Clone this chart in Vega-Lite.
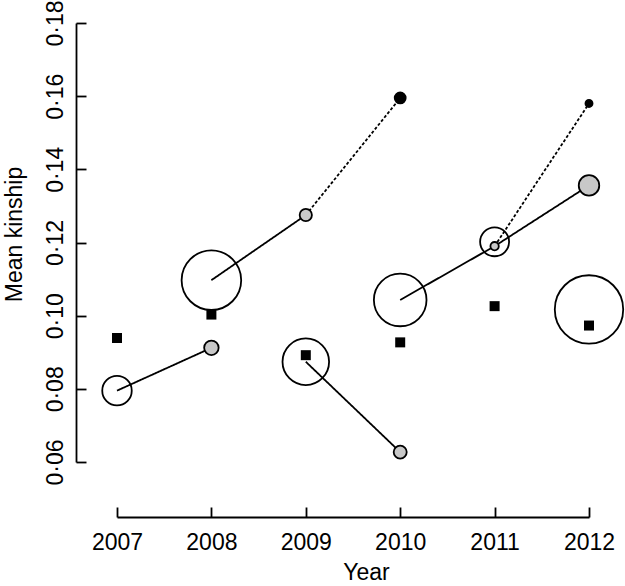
{
  "$schema": "https://vega.github.io/schema/vega-lite/v6.json",
  "autosize": {"type": "none"},
  "width": 472,
  "height": 439,
  "padding": {"left": 117, "top": 23, "right": 36, "bottom": 124},
  "background": "white",
  "config": {
    "view": {"stroke": null},
    "font": "Liberation Sans",
    "axis": {
      "grid": false,
      "domainColor": "black",
      "domainWidth": 1.8,
      "tickColor": "black",
      "tickWidth": 1.8,
      "tickSize": -10,
      "labelFlush": false,
      "labelOverlap": false,
      "labelFont": "Liberation Sans",
      "labelFontSize": 23,
      "labelColor": "black",
      "titleFont": "Liberation Sans",
      "titleFontSize": 23,
      "titleFontWeight": "normal",
      "titleColor": "black"
    }
  },
  "datasets": {
    "pts": [
      {"year": 2007, "kinship": 0.0795, "kind": "cohort", "n": 87},
      {"year": 2008, "kinship": 0.1097, "kind": "cohort", "n": 355},
      {"year": 2009, "kinship": 0.0874, "kind": "cohort", "n": 217},
      {"year": 2010, "kinship": 0.1043, "kind": "cohort", "n": 277},
      {"year": 2011, "kinship": 0.1202, "kind": "cohort", "n": 84},
      {"year": 2012, "kinship": 0.1017, "kind": "cohort", "n": 468},
      {"year": 2008, "kinship": 0.0912, "kind": "followup", "n": 21},
      {"year": 2009, "kinship": 0.1275, "kind": "followup", "n": 15},
      {"year": 2010, "kinship": 0.0627, "kind": "followup", "n": 17},
      {"year": 2011, "kinship": 0.119, "kind": "followup", "n": 7},
      {"year": 2012, "kinship": 0.1356, "kind": "followup", "n": 42},
      {"year": 2010, "kinship": 0.1595, "kind": "expected", "n": 12},
      {"year": 2012, "kinship": 0.158, "kind": "expected", "n": 5},
      {"year": 2007, "kinship": 0.0939, "kind": "population", "n": 10},
      {"year": 2008, "kinship": 0.1003, "kind": "population", "n": 10},
      {"year": 2009, "kinship": 0.0892, "kind": "population", "n": 10},
      {"year": 2010, "kinship": 0.0927, "kind": "population", "n": 10},
      {"year": 2011, "kinship": 0.1026, "kind": "population", "n": 10},
      {"year": 2012, "kinship": 0.0973, "kind": "population", "n": 10}
    ],
    "segs": [
      {"seg": "a", "style": "solid", "year": 2007, "kinship": 0.0795},
      {"seg": "a", "style": "solid", "year": 2008, "kinship": 0.0912},
      {"seg": "b", "style": "solid", "year": 2008, "kinship": 0.1097},
      {"seg": "b", "style": "solid", "year": 2009, "kinship": 0.1275},
      {"seg": "b2", "style": "dotted", "year": 2009, "kinship": 0.1275},
      {"seg": "b2", "style": "dotted", "year": 2010, "kinship": 0.1595},
      {"seg": "c", "style": "solid", "year": 2009, "kinship": 0.0874},
      {"seg": "c", "style": "solid", "year": 2010, "kinship": 0.0627},
      {"seg": "d", "style": "solid", "year": 2010, "kinship": 0.1043},
      {"seg": "d", "style": "solid", "year": 2011, "kinship": 0.119},
      {"seg": "d", "style": "solid", "year": 2012, "kinship": 0.1356},
      {"seg": "e", "style": "dotted", "year": 2011, "kinship": 0.119},
      {"seg": "e", "style": "dotted", "year": 2012, "kinship": 0.158}
    ]
  },
  "encoding": {
    "x": {
      "field": "year",
      "type": "quantitative",
      "scale": {"domain": [2007, 2012], "nice": false, "zero": false},
      "axis": {
        "title": "Year",
        "values": [2007, 2008, 2009, 2010, 2011, 2012],
        "format": "d",
        "offset": 55,
        "labelPadding": 24,
        "titlePadding": 7,
        "titleX": 249
      }
    },
    "y": {
      "field": "kinship",
      "type": "quantitative",
      "scale": {"domain": [0.06, 0.18], "nice": false, "zero": false},
      "axis": {
        "title": "Mean kinship",
        "values": [0.06, 0.08, 0.1, 0.12, 0.14, 0.16, 0.18],
        "labelExpr": "replace(format(datum.value, '.2f'), '.', '·')",
        "labelAngle": -90,
        "labelAlign": "center",
        "labelBaseline": "alphabetic",
        "offset": 41,
        "labelPadding": 24,
        "titlePadding": 18,
        "titleY": 211
      }
    }
  },
  "layer": [
    {
      "data": {"name": "segs"},
      "mark": {"type": "line", "color": "black", "strokeWidth": 1.8},
      "encoding": {
        "detail": {"field": "seg"},
        "strokeDash": {
          "field": "style",
          "type": "nominal",
          "scale": {"domain": ["solid", "dotted"], "range": [[1, 0], [3, 2]]},
          "legend": null
        }
      }
    },
    {
      "data": {"name": "pts"},
      "transform": [{"filter": "datum.kind === 'cohort' || datum.kind === 'followup' || datum.kind === 'expected'"}],
      "mark": {"type": "point", "shape": "circle", "strokeWidth": 1.8, "opacity": 1},
      "encoding": {
        "size": {
          "field": "n",
          "type": "quantitative",
          "scale": {"type": "linear", "domain": [0, 100], "range": [0, 1000], "zero": true},
          "legend": null
        },
        "fill": {
          "field": "kind",
          "type": "nominal",
          "scale": {"domain": ["cohort", "followup", "expected"], "range": ["transparent", "#c8c8c8", "black"]},
          "legend": null
        },
        "stroke": {
          "field": "kind",
          "type": "nominal",
          "scale": {"domain": ["cohort", "followup", "expected"], "range": ["black", "black", "black"]},
          "legend": null
        },
        "fillOpacity": {"value": 1}
      }
    },
    {
      "data": {"name": "pts"},
      "transform": [{"filter": "datum.kind === 'population'"}],
      "mark": {"type": "square", "color": "black", "size": 100, "opacity": 1}
    }
  ]
}
